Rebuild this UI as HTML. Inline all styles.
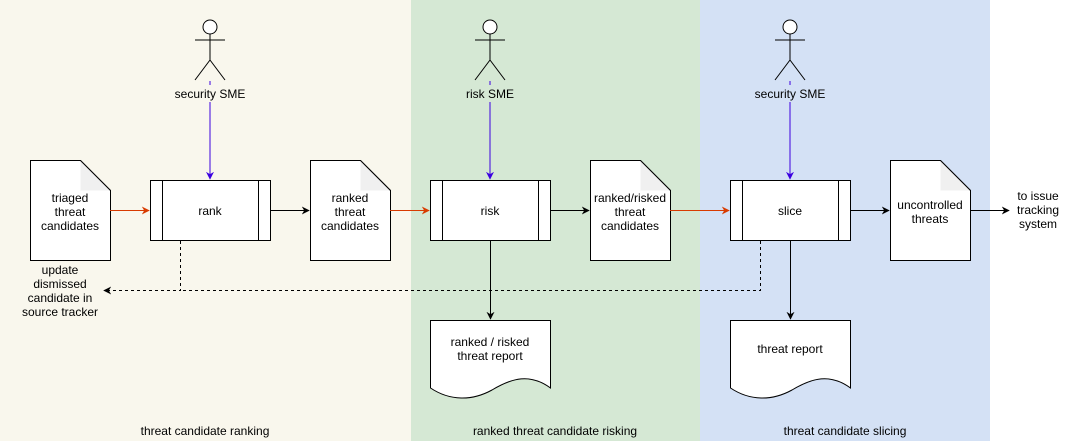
<!DOCTYPE html>
<html><head><style>
html,body{margin:0;padding:0;background:#fff;}
svg{display:block;font-family:"Liberation Sans",Helvetica,Arial,sans-serif;}
text{font-size:12px;fill:#000;text-anchor:middle;}
</style></head><body>
<svg width="1071" height="441" viewBox="0 0 1071 441" xmlns="http://www.w3.org/2000/svg">
<defs>
<marker id="ab" viewBox="0 0 10 10" refX="9" refY="5" markerWidth="8" markerHeight="8" orient="auto" markerUnits="userSpaceOnUse"><path d="M0,0 L10,5 L0,10 L3,5 Z" fill="#000"/></marker>
<marker id="ar" viewBox="0 0 10 10" refX="9" refY="5" markerWidth="8" markerHeight="8" orient="auto" markerUnits="userSpaceOnUse"><path d="M0,0 L10,5 L0,10 L3,5 Z" fill="#d83b01"/></marker>
<marker id="au" viewBox="0 0 10 10" refX="9" refY="5" markerWidth="8" markerHeight="8" orient="auto" markerUnits="userSpaceOnUse"><path d="M0,0 L10,5 L0,10 L3,5 Z" fill="#3b00e0"/></marker>
</defs>
<rect x="0" y="0" width="411" height="441" fill="#f9f7ed"/>
<rect x="411" y="0" width="289" height="441" fill="#d5e8d4"/>
<rect x="700" y="0" width="290" height="441" fill="#d4e1f5"/>

<g stroke="#000" fill="none" stroke-width="1">
<!-- actors -->
<g id="act"><circle cx="210" cy="27" r="7" fill="#fff"/><line x1="210" y1="34" x2="210" y2="60"/><line x1="195" y1="40" x2="225" y2="40"/><line x1="210" y1="60" x2="195" y2="80"/><line x1="210" y1="60" x2="225" y2="80"/></g>
<use href="#act" x="280"/>
<use href="#act" x="580"/>
</g>
<text x="210" y="98">security SME</text>
<text x="490" y="98">risk SME</text>
<text x="790" y="98">security SME</text>

<g stroke="#3b00e0" stroke-width="1">
<line x1="210" y1="81" x2="210" y2="85"/><line x1="210" y1="102" x2="210" y2="179" marker-end="url(#au)"/>
<line x1="490" y1="81" x2="490" y2="85"/><line x1="490" y1="102" x2="490" y2="179" marker-end="url(#au)"/>
<line x1="790" y1="81" x2="790" y2="85"/><line x1="790" y1="102" x2="790" y2="179" marker-end="url(#au)"/>
</g>

<!-- docs -->
<g stroke="#000" stroke-width="1">
<g id="doc"><path d="M30.5,160.5 H80.5 L110.5,190.5 V260.5 H30.5 Z" fill="#fff"/><path d="M80.5,160.5 V190.5 H110.5 Z" fill="#f0f0f0" stroke="none"/><path d="M80.5,160.5 L110.5,190.5" fill="none"/></g>
<use href="#doc" x="280"/><use href="#doc" x="560"/><use href="#doc" x="860"/>
<!-- processes -->
<g id="proc"><rect x="150.5" y="180.5" width="120" height="60" fill="#fff"/><line x1="162.5" y1="180.5" x2="162.5" y2="240.5"/><line x1="258.5" y1="180.5" x2="258.5" y2="240.5"/></g>
<use href="#proc" x="280"/><use href="#proc" x="580"/>
<!-- reports -->
<path id="rep" d="M430.5,320.5 H550.5 V388 C530,373 512,378 492,390 C472,401 450,401 430.5,388 Z" fill="#fff"/>
<use href="#rep" x="300"/>
</g>

<text x="70" y="202">triaged</text><text x="70" y="216">threat</text><text x="70" y="230">candidates</text>
<text x="210" y="215">rank</text>
<text x="350" y="202">ranked</text><text x="350" y="216">threat</text><text x="350" y="230">candidates</text>
<text x="490" y="215">risk</text>
<text x="630" y="202">ranked/risked</text><text x="630" y="216">threat</text><text x="630" y="230">candidates</text>
<text x="790" y="215">slice</text>
<text x="930" y="209">uncontrolled</text><text x="930" y="223">threats</text>
<text x="1038" y="200">to issue</text><text x="1038" y="214">tracking</text><text x="1038" y="228">system</text>
<text x="490" y="346">ranked / risked</text><text x="490" y="360">threat report</text>
<text x="790" y="353">threat report</text>
<text x="60" y="274">update</text><text x="60" y="288">dismissed</text><text x="60" y="302">candidate in</text><text x="60" y="316">source tracker</text>
<text x="205" y="435">threat candidate ranking</text>
<text x="555" y="435">ranked threat candidate risking</text>
<text x="845" y="435">threat candidate slicing</text>

<g stroke="#d83b01" stroke-width="1" fill="none">
<line x1="110" y1="210.5" x2="149" y2="210.5" marker-end="url(#ar)"/>
<line x1="390" y1="210.5" x2="429" y2="210.5" marker-end="url(#ar)"/>
<line x1="670" y1="210.5" x2="729" y2="210.5" marker-end="url(#ar)"/>
</g>
<g stroke="#000" stroke-width="1" fill="none">
<line x1="270" y1="210.5" x2="309" y2="210.5" marker-end="url(#ab)"/>
<line x1="550" y1="210.5" x2="589" y2="210.5" marker-end="url(#ab)"/>
<line x1="850" y1="210.5" x2="889" y2="210.5" marker-end="url(#ab)"/>
<line x1="970" y1="210.5" x2="1009" y2="210.5" marker-end="url(#ab)"/>
<line x1="490.5" y1="240" x2="490.5" y2="319" marker-end="url(#ab)"/>
<line x1="790.5" y1="240" x2="790.5" y2="319" marker-end="url(#ab)"/>
<path d="M180.5,241 V290.5 H104" stroke-dasharray="3,3" marker-end="url(#ab)"/>
<path d="M760.5,241 V290.5 H180.5" stroke-dasharray="3,3"/>
</g>
</svg>
</body></html>
